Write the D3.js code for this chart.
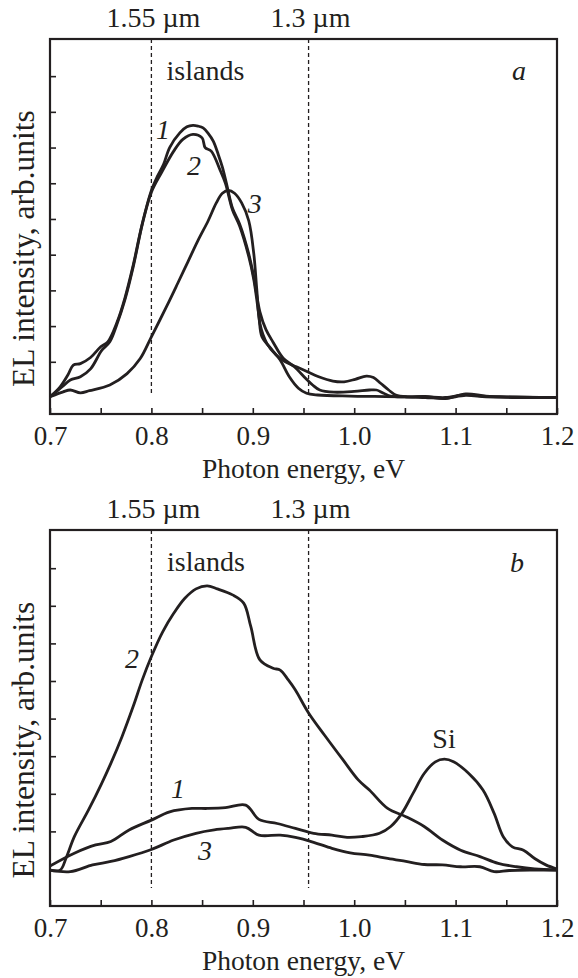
<!DOCTYPE html>
<html>
<head>
<meta charset="utf-8">
<script src="https://cdn.jsdelivr.net/npm/d3@7"></script>
<style>
  html, body { margin: 0; padding: 0; background: #fff; }
  svg { display: block; }
  text { font-family: "Liberation Serif", "Times New Roman", serif; fill: #231f20; }
</style>
</head>
<body>
<div id="chart"></div>
<script>
// photon energy ticks (eV)
const xTicks = [0.7, 0.75, 0.8, 0.85, 0.9, 0.95, 1.0, 1.05, 1.1, 1.15, 1.2];
const xLabels = ['0.7', '', '0.8', '', '0.9', '', '1.0', '', '1.1', '', '1.2'];
const markLines = [0.8, 0.955];
const markLabels = ['1.55 \u00b5m', '1.3 \u00b5m'];

// panel a
const a1E = [0.700,0.710,0.718,0.723,0.730,0.740,0.750,0.757,0.766,0.774,0.782,0.791,0.800,0.806,0.812,0.818,0.828,0.835,0.841,0.846,0.851,0.856,0.861,0.866,0.870,0.874,0.880,0.887,0.896,0.901,0.907,0.913,0.920,0.930,0.941,0.952,0.959,0.966,0.980,1.000,1.015,1.022,1.029,1.036,1.050,1.070,1.090,1.110,1.130,1.150,1.170,1.200];
const a1I = [0.02,0.3,0.65,0.91,0.95,1.12,1.42,1.56,2.1,2.8,3.7,4.87,5.8,6.2,6.53,7.0,7.41,7.58,7.62,7.6,7.55,7.4,7.18,6.8,6.45,6.0,5.3,4.86,4.02,3.37,2.4,1.9,1.55,1.1,0.86,0.54,0.35,0.21,0.15,0.17,0.21,0.21,0.12,0.04,0.02,0.02,0.0,0.08,0.03,0.02,0.01,0.0];
const a2E = [0.700,0.712,0.720,0.730,0.740,0.751,0.759,0.766,0.774,0.782,0.791,0.800,0.810,0.822,0.831,0.841,0.850,0.853,0.859,0.868,0.873,0.880,0.887,0.896,0.901,0.906,0.909,0.918,0.927,0.936,0.945,0.953,0.964,0.996,1.020,1.050,1.070,1.090,1.110,1.130,1.160,1.200];
const a2I = [0.02,0.3,0.49,0.58,0.8,1.32,1.56,2.05,2.75,3.65,4.85,5.75,6.3,6.9,7.23,7.37,7.27,7.0,6.9,6.35,6.0,5.25,4.8,3.95,3.3,2.3,1.7,1.37,1.05,0.58,0.26,0.12,0.07,0.04,0.03,0.02,0.0,-0.02,0.06,0.02,0.01,0.0];
const a3E = [0.700,0.713,0.720,0.730,0.739,0.759,0.776,0.789,0.800,0.815,0.826,0.836,0.846,0.856,0.864,0.870,0.876,0.882,0.889,0.896,0.901,0.904,0.907,0.914,0.923,0.932,0.943,0.954,0.965,0.979,0.990,1.001,1.012,1.019,1.026,1.034,1.041,1.052,1.070,1.090,1.110,1.130,1.160,1.200];
const a3I = [0.02,0.16,0.21,0.13,0.19,0.35,0.67,1.09,1.7,2.55,3.2,3.8,4.4,4.95,5.45,5.72,5.8,5.72,5.45,4.95,4.02,3.0,2.07,1.51,1.19,1.0,0.86,0.72,0.58,0.46,0.44,0.51,0.6,0.56,0.4,0.21,0.07,0.02,0.03,-0.03,0.1,0.04,0.0,0.0];

// panel b
const b1E = [0.700,0.724,0.745,0.760,0.778,0.800,0.818,0.840,0.855,0.873,0.893,0.906,0.924,0.942,0.960,0.978,0.993,1.007,1.025,1.036,1.047,1.058,1.069,1.080,1.089,1.098,1.113,1.127,1.138,1.147,1.156,1.167,1.178,1.189,1.200];
const b1I = [0.08,0.42,0.64,0.73,1.04,1.3,1.52,1.61,1.61,1.63,1.70,1.32,1.21,1.08,0.95,0.9,0.84,0.86,0.95,1.13,1.48,2.01,2.54,2.85,2.92,2.85,2.54,2.1,1.48,0.86,0.59,0.5,0.28,0.11,0.0];
const b2E = [0.700,0.710,0.716,0.724,0.738,0.751,0.760,0.771,0.782,0.791,0.800,0.811,0.822,0.833,0.844,0.855,0.865,0.880,0.891,0.898,0.907,0.920,0.927,0.935,0.942,0.955,0.971,0.989,1.004,1.015,1.033,1.051,1.069,1.087,1.105,1.124,1.142,1.160,1.178,1.200];
const b2I = [-0.03,-0.03,0.3,0.86,1.57,2.28,2.81,3.52,4.32,5.03,5.65,6.3,6.8,7.2,7.45,7.53,7.45,7.29,7.07,6.45,5.56,5.34,5.29,5.03,4.76,4.15,3.55,2.9,2.37,2.1,1.61,1.39,1.13,0.77,0.5,0.33,0.15,0.06,0.0,-0.03];
const b3E = [0.700,0.720,0.742,0.760,0.778,0.800,0.822,0.844,0.862,0.876,0.893,0.906,0.927,0.942,0.960,0.978,0.996,1.015,1.033,1.051,1.069,1.087,1.105,1.124,1.138,1.153,1.178,1.200];
const b3I = [-0.03,-0.07,0.11,0.2,0.33,0.52,0.77,0.95,1.04,1.08,1.11,0.9,0.9,0.84,0.71,0.55,0.43,0.37,0.28,0.2,0.12,0.11,0.06,0.06,-0.07,-0.04,-0.03,-0.03];

// annotations: [energy, intensity, text, italic]
const aNotes = [[0.8114, 7.24, '1', true], [0.842, 6.23, '2', true], [0.902, 5.17, '3', true],
                [0.8533, 8.89, 'islands', false], [1.1625, 8.89, 'a', true]];
const bNotes = [[0.7809, 5.35, '2', true], [0.8262, 1.89, '1', true], [0.8529, 0.24, '3', true],
                [1.0886, 3.22, 'Si', false], [0.8538, 7.93, 'islands', false], [1.1605, 7.9, 'b', true]];

const W = 578, H = 978;
const ink = '#231f20';

const svg = d3.select('#chart').append('svg')
    .attr('width', W).attr('height', H)
    .attr('viewBox', [0, 0, W, H]);

const x = d3.scaleLinear().domain([0.7, 1.2]).range([50, 557]);

function zip(e, v) { return e.map((d, i) => [d, v[i]]); }

function drawPanel(cfg) {
    const y = d3.scaleLinear().domain(cfg.yDomain).range([cfg.bottom, cfg.top]);
    const g = svg.append('g');

    // dashed wavelength markers
    markLines.forEach((m, i) => {
        g.append('line')
            .attr('x1', x(m)).attr('x2', x(m))
            .attr('y1', cfg.top).attr('y2', cfg.bottom - 18)
            .attr('stroke', ink).attr('stroke-width', 1.3)
            .attr('stroke-dasharray', '4,3');
        g.append('text')
            .attr('x', x(m) + 2).attr('y', cfg.top - 12)
            .attr('text-anchor', 'middle')
            .attr('font-size', 28)
            .text(markLabels[i]);
    });

    // x axis, ticks inward
    const xa = g.append('g')
        .attr('transform', `translate(0,${cfg.bottom})`)
        .call(d3.axisBottom(x).tickValues(xTicks).tickSize(-6)
            .tickFormat((d, i) => xLabels[i]));
    xa.select('.domain').remove();
    xa.selectAll('line').attr('stroke', ink).attr('stroke-width', 1.6);
    xa.selectAll('text')
        .attr('y', 31).attr('dy', null)
        .attr('font-size', 27)
        .attr('font-family', '"Liberation Serif", serif')
        .attr('fill', ink);

    // y axis, unlabelled ticks
    const ya = g.append('g')
        .attr('transform', `translate(${x.range()[0]},0)`)
        .call(d3.axisLeft(y).tickValues(cfg.yTicks).tickSize(-6).tickFormat(''));
    ya.select('.domain').remove();
    ya.selectAll('line').attr('stroke', ink).attr('stroke-width', 1.6);

    // frame
    g.append('rect')
        .attr('x', x.range()[0]).attr('y', cfg.top)
        .attr('width', x.range()[1] - x.range()[0])
        .attr('height', cfg.bottom - cfg.top)
        .attr('fill', 'none').attr('stroke', ink).attr('stroke-width', 2.2);

    const line = d3.line()
        .x(d => x(d[0])).y(d => y(d[1]))
        .curve(d3.curveCatmullRom.alpha(0.5));

    g.selectAll('path.spec')
        .data(cfg.series)
        .enter().append('path')
        .attr('class', 'spec')
        .attr('d', line)
        .attr('fill', 'none')
        .attr('stroke', ink)
        .attr('stroke-width', 2.8)
        .attr('stroke-linejoin', 'round');

    cfg.notes.forEach(n => {
        g.append('text')
            .attr('x', x(n[0])).attr('y', y(n[1]))
            .attr('text-anchor', 'middle')
            .attr('font-size', 28)
            .attr('font-style', n[3] ? 'italic' : 'normal')
            .text(n[2]);
    });

    // axis titles
    g.append('text')
        .attr('x', (x.range()[0] + x.range()[1]) / 2)
        .attr('y', cfg.bottom + 64)
        .attr('text-anchor', 'middle')
        .attr('font-size', 27.5)
        .text('Photon energy, eV');
    g.append('text')
        .attr('transform', `translate(34,${(cfg.top + cfg.bottom) / 2 + 22}) rotate(-90)`)
        .attr('text-anchor', 'middle')
        .attr('font-size', 31.5)
        .text('EL intensity, arb.units');
}

drawPanel({
    top: 39, bottom: 414,
    yDomain: [-0.462, 10.04],
    yTicks: [1, 2, 3, 4, 5, 6, 7, 8, 9],
    series: [zip(a1E, a1I), zip(a2E, a2I), zip(a3E, a3I)],
    notes: aNotes
});

drawPanel({
    top: 530, bottom: 906,
    yDomain: [-0.984, 9.016],
    yTicks: [1, 2, 3, 4, 5, 6, 7, 8],
    series: [zip(b1E, b1I), zip(b2E, b2I), zip(b3E, b3I)],
    notes: bNotes
});
</script>
</body>
</html>
